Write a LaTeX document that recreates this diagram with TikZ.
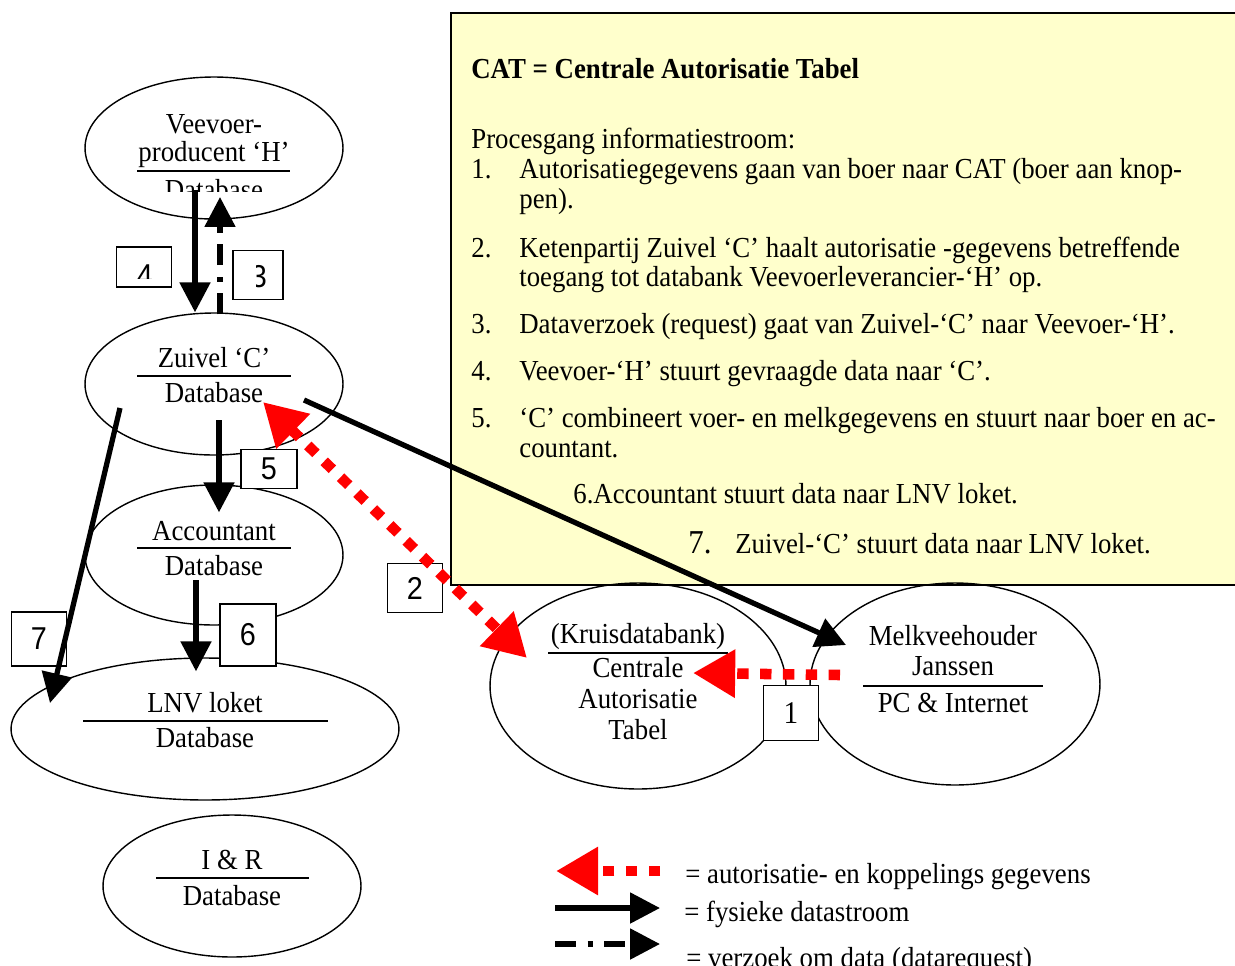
\documentclass[tikz,border=0pt]{standalone}
\usepackage{fontspec}
\setmainfont{Liberation Serif}[FakeStretch=0.925]
\newfontfamily\numfont{Liberation Sans}[FakeStretch=0.91]
\usetikzlibrary{arrows.meta,shapes.geometric,calc}
\definecolor{notegeel}{RGB}{255,255,204}
\tikzset{redtip/.tip={Triangle[length=24pt, width=26pt]}}

\begin{document}
\begin{tikzpicture}[x=0.02cm, y=-0.02cm, font=\fontsize{16.5}{18}\selectfont,
    db/.style = {draw, ellipse, line width=0.8pt, inner sep=0pt},
    lbl/.style = {anchor=base, inner sep=0pt},
    txt/.style = {anchor=base west, inner sep=0pt},
    nr/.style = {draw, fill=white, line width=0.8pt, inner sep=0pt, font=\numfont\fontsize{18}{18}\selectfont},
    onder/.style = {line width=1pt},
    flow/.style = {line width=3pt, -{Triangle[length=17pt, width=17pt]}},
    req/.style = {flow, dash pattern=on 12pt off 6.5pt on 3pt off 6.5pt},
    auth/.style = {red, line width=6pt, dash pattern=on 6.5pt off 6.5pt}]
    \useasboundingbox (0,0) rectangle (1235,965);

    % toelichting
    \node[draw, fill=notegeel, line width=1pt, anchor=north west, minimum width=15.8cm, minimum height=11.44cm] (note) at (450,12) {};
    \node[txt, font=\fontsize{16.5}{18}\selectfont\bfseries] (catdef) at (471,78) {CAT = Centrale Autorisatie Tabel};
    \node[txt] (proc) at (471,148) {Procesgang informatiestroom:};
    \node[txt] (s1n) at (471,178) {1.};
    \node[txt] (s1) at (519,178) {Autorisatiegegevens gaan van boer naar CAT (boer aan knop-};
    \node[txt] (s1b) at (519,208) {pen).};
    \node[txt] (s2n) at (471,257) {2.};
    \node[txt] (s2) at (519,257) {Ketenpartij Zuivel ‘C’ haalt autorisatie -gegevens betreffende};
    \node[txt] (s2b) at (519,286) {toegang tot databank Veevoerleverancier-‘H’ op.};
    \node[txt] (s3n) at (471,333) {3.};
    \node[txt] (s3) at (519,333) {Dataverzoek (request) gaat van Zuivel-‘C’ naar Veevoer-‘H’.};
    \node[txt] (s4n) at (471,380) {4.};
    \node[txt] (s4) at (519,380) {Veevoer-‘H’ stuurt gevraagde data naar ‘C’.};
    \node[txt] (s5n) at (471,427) {5.};
    \node[txt] (s5) at (519,427) {‘C’ combineert voer- en melkgegevens en stuurt naar boer en ac-};
    \node[txt] (s5b) at (519,457) {countant.};
    \node[txt] (s6) at (573,503) {6.Accountant stuurt data naar LNV loket.};
    \node[txt, font=\fontsize{19}{19}\selectfont] (s7n) at (688,553) {7.};
    \node[txt] (s7) at (735,553) {Zuivel-‘C’ stuurt data naar LNV loket.};

    % databases
    \node[db, minimum width=5.16cm, minimum height=2.84cm] (veevoer) at (214,148) {};
    \node[db, minimum width=5.16cm, minimum height=2.84cm] (zuivel) at (214,384) {};
    \node[db, minimum width=5.16cm, minimum height=2.8cm] (accountant) at (214,555) {};
    \node[db, minimum width=7.76cm, minimum height=2.84cm] (lnv) at (205,729) {};
    \node[db, minimum width=5.16cm, minimum height=2.84cm] (ir) at (232,886) {};
    \node[db, minimum width=5.92cm, minimum height=4.12cm] (cat) at (638,686) {};
    \node[db, minimum width=5.8cm, minimum height=4.04cm] (melk) at (955,684) {};

    \node[lbl] (veevoer1) at (214,133) {Veevoer-};
    \node[lbl] (veevoer2) at (214,161) {producent ‘H’};
    \draw[onder] (137,171) -- (290,171);
    \begin{scope}
        \clip (120,150) rectangle (310,191);
        \node[lbl] (veevoer3) at (214,199) {Database};
    \end{scope}
    \node[lbl] (zuivel1) at (214,367) {Zuivel ‘C’};
    \draw[onder] (137,376) -- (291,376);
    \node[lbl] (zuivel2) at (214,402) {Database};
    \node[lbl] (accountant1) at (214,540) {Accountant};
    \draw[onder] (137,548) -- (291,548);
    \node[lbl] (accountant2) at (214,575) {Database};
    \node[lbl] (lnv1) at (205,712) {LNV loket};
    \draw[onder] (83,721) -- (328,721);
    \node[lbl] (lnv2) at (205,747) {Database};
    \node[lbl] (ir1) at (232,869) {I \& R};
    \draw[onder] (156,878) -- (309,878);
    \node[lbl] (ir2) at (232,905) {Database};
    \node[lbl] (cat1) at (638,643) {(Kruisdatabank)};
    \draw[onder] (548,653) -- (728,653);
    \node[lbl] (cat2) at (638,677) {Centrale};
    \node[lbl] (cat3) at (638,708) {Autorisatie};
    \node[lbl] (cat4) at (638,739) {Tabel};
    \node[lbl] (melk1) at (953,645) {Melkveehouder};
    \node[lbl] (melk2) at (953,675) {Janssen};
    \draw[onder] (863,686) -- (1043,686);
    \node[lbl] (melk3) at (953,712) {PC \& Internet};

    % stapnummers
    \node[nr, minimum width=1.1cm, minimum height=0.8cm] (nr4) at (144,267) {};
    \begin{scope}
        \clip (120,250) rectangle (170,278);
        \node[nr, draw=none, fill=none] (nr4t) at (145,276) {4};
    \end{scope}
    \node[nr, minimum width=1cm, minimum height=0.98cm] (nr3) at (258,275) {};
    \begin{scope}
        \clip (256,255) rectangle (280,295);
        \node[nr, draw=none, fill=none] (nr3t) at (259,277) {3};
    \end{scope}
    \node[nr, minimum width=1.12cm, minimum height=0.78cm] (nr5) at (269,469) {5};
    \node[nr, minimum width=1.1cm, minimum height=0.98cm] (nr2) at (415,588) {2};
    \node[nr, minimum width=1.12cm, minimum height=1.24cm] (nr6) at (248,635) {6};
    \node[nr, minimum width=1.1cm, minimum height=1.08cm] (nr7) at (39,639) {7};
    \node[nr, font=\fontsize{18}{18}\selectfont, minimum width=1.1cm, minimum height=1.1cm] (nr1) at (791,713) {1};

    % stromen
    \draw[flow] ($(veevoer.center)+(-19,42)$) -- ($(zuivel.north)+(-19,0)$);
    \draw[req] ($(zuivel.north)+(6,2)$) -- ($(veevoer.center)+(6,49)$);
    \draw[flow] ($(zuivel.center)+(5,36)$) -- ($(accountant.north)+(5,28)$);
    \draw[flow] ($(accountant.center)+(-18,25)$) -- ($(lnv.north)+(-9,14)$);
    \draw[flow] ($(zuivel.center)+(-94,24)$) -- ($(lnv.center)+(-155,-26)$);
    \draw[flow] ($(zuivel.center)+(90,16)$) -- ($(melk.center)+(-109,-39)$);
    \draw[auth, redtip-redtip] ($(zuivel.center)+(49,18)$) -- ($(cat.center)+(-111,-28)$);
    \draw[auth, -redtip] ($(melk.center)+(-115,-9)$) -- ($(cat.center)+(55,-13)$);

    % legenda
    \coordinate (leg1a) at (660,871);
    \coordinate (leg1b) at (556,871);
    \coordinate (leg2a) at (555,908);
    \coordinate (leg2b) at (660,908);
    \coordinate (leg3a) at (555,944);
    \coordinate (leg3b) at (660,944);
    \draw[auth, -redtip] (leg1a) -- (leg1b);
    \draw[flow] (leg2a) -- (leg2b);
    \draw[req] (leg3a) -- (leg3b);
    \node[txt] (leg1) at (685,883) {= autorisatie- en koppelings gegevens};
    \node[txt] (leg2) at (684,921) {= fysieke datastroom};
    \node[txt] (leg3) at (686,967) {= verzoek om data (datarequest)};
\end{tikzpicture}
\end{document}
